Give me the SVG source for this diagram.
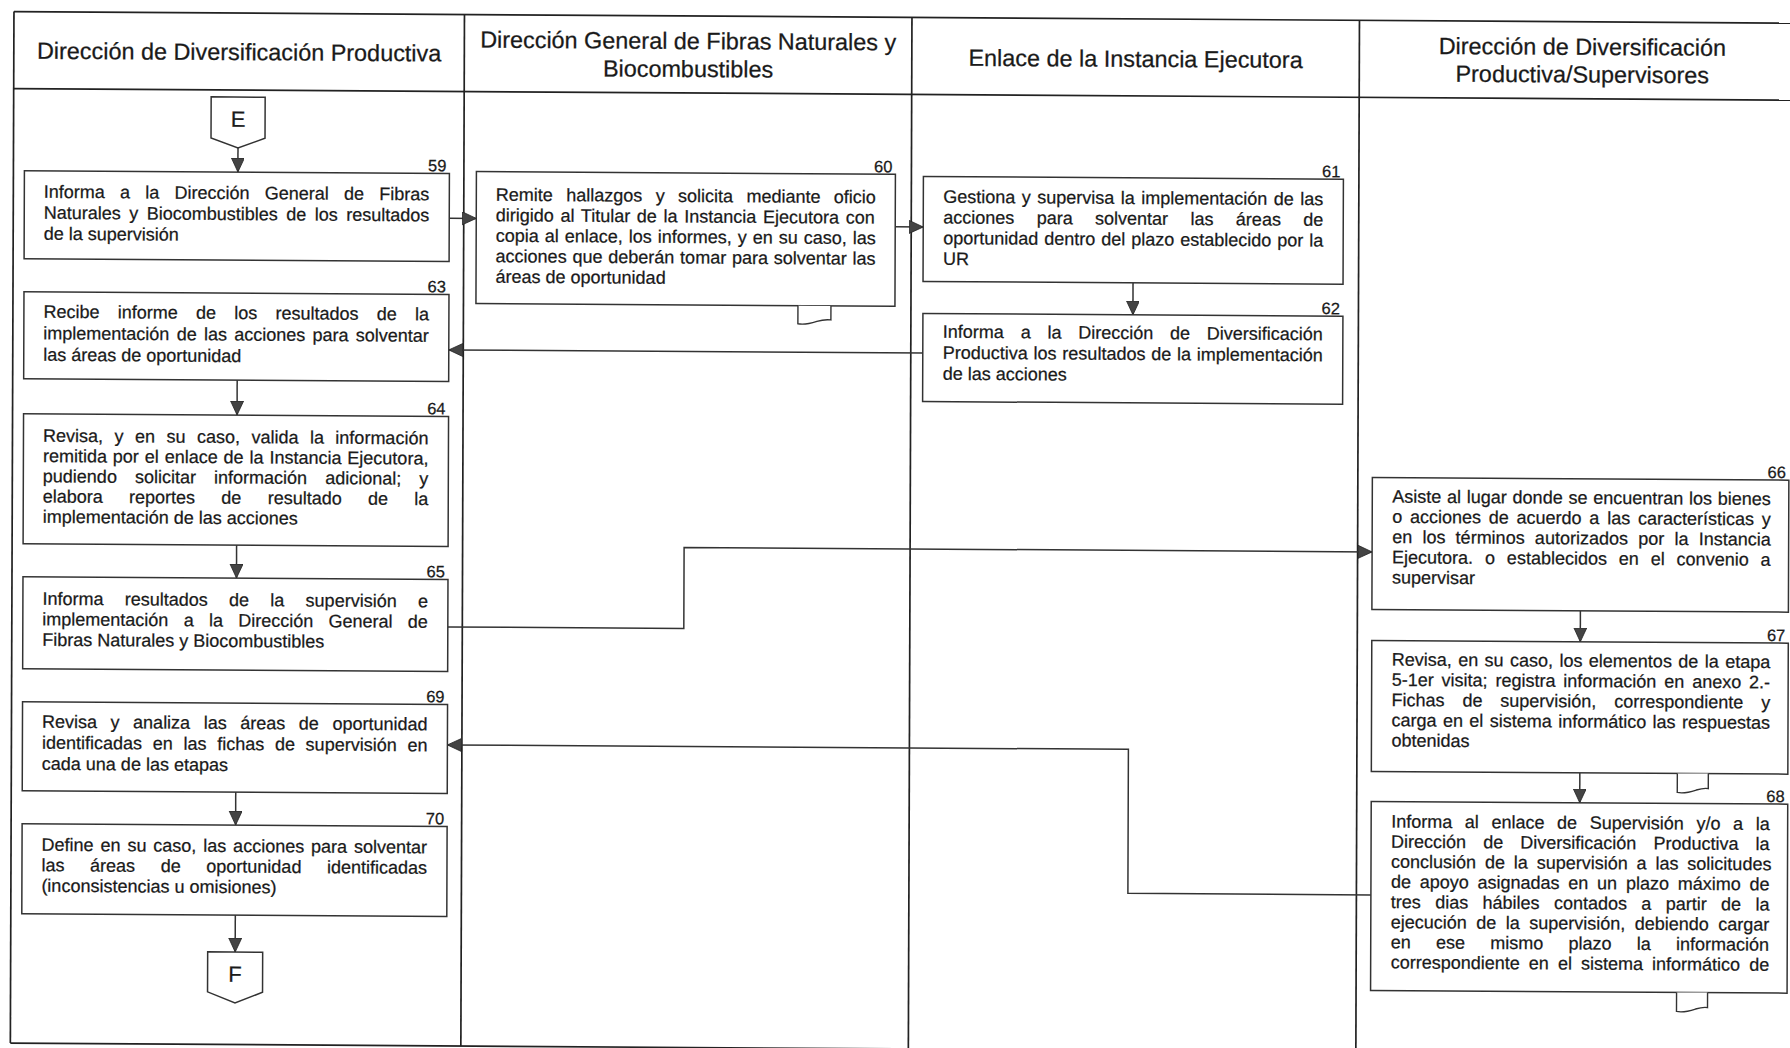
<svg xmlns="http://www.w3.org/2000/svg" width="1790" height="1048" viewBox="0 0 1790 1048">
<style>
.lane{stroke:#222;stroke-width:1.7;fill:none}
.box{fill:#fff;stroke:#333;stroke-width:1.5}
.doc{fill:#fff;stroke:#333;stroke-width:1.4}
.t{font-family:"Liberation Sans",Arial,sans-serif;font-size:18px;fill:#1a1a1a;stroke:#1a1a1a;stroke-width:0.25}
.h{font-size:23.4px;text-anchor:middle}
.num{font-size:16.5px;text-anchor:end}
.cn{font-size:22px;text-anchor:middle}
.c{stroke:#333;stroke-width:1.5;fill:none;marker-end:url(#ah)}
</style>
<defs>
<marker id="ah" markerUnits="userSpaceOnUse" markerWidth="15" markerHeight="14" refX="14" refY="6.5" orient="auto">
<path d="M0,0 L14,6.5 L0,13 Z" fill="#444" stroke="#222" stroke-width="0.8"/>
</marker>
</defs>
<rect x="0" y="0" width="1790" height="1048" fill="#fff"/>
<g transform="matrix(1,0.0065,-0.0035,1,0,0)">
<g id="lanes">
<line class="lane" x1="14" y1="11.5" x2="1815" y2="11.5" stroke-width="2"/>
<line class="lane" x1="14" y1="88.5" x2="1815" y2="88.5" stroke-width="2"/>
<line class="lane" x1="14" y1="1043" x2="1815" y2="1043" stroke-width="2"/>
<line class="lane" x1="14" y1="11.5" x2="14" y2="1043"/>
<line class="lane" x1="464.5" y1="11.5" x2="464.5" y2="1043"/>
<line class="lane" x1="912" y1="11.5" x2="912" y2="1043"/>
<line class="lane" x1="1359.5" y1="11.5" x2="1359.5" y2="1043"/>
<text class="t h" x="239.3" y="58.5">Dirección de Diversificación Productiva</text>
<text class="t h" x="688.3" y="44.5">Dirección General de Fibras Naturales y</text>
<text class="t h" x="688.3" y="72.5">Biocombustibles</text>
<text class="t h" x="1135.8" y="59.5">Enlace de la Instancia Ejecutora</text>
<text class="t h" x="1582.5" y="44.6">Dirección de Diversificación</text>
<text class="t h" x="1582.5" y="72.2">Productiva/Supervisores</text>
</g>
<g id="connectors">
<path class="c" d="M238.5,146.5 V170.5"/>
<path class="c" d="M450,215.3 H477"/>
<path class="c" d="M896,221 H924"/>
<path class="c" d="M1134,275.5 V307.5"/>
<path class="c" d="M924,347 H450"/>
<path class="c" d="M238.5,378.5 V413.5"/>
<path class="c" d="M238.5,543.5 V576.5"/>
<path class="c" d="M450,624 H686 V543 H1374"/>
<path class="c" d="M1582.5,600.5 V631.5"/>
<path class="c" d="M1582.5,762.5 V792.5"/>
<path class="c" d="M1374,886 H1131 V742 H450"/>
<path class="c" d="M238.5,790.5 V823.5"/>
<path class="c" d="M238.5,913.5 V950.5"/>
</g>
<g id="nE">
<path class="box" d="M211.5,95.5 H265.5 V136.5 L238.5,146.5 L211.5,136.5 Z"/>
<text class="t cn" x="238.5" y="125.2">E</text>
</g>
<g id="n59">
<rect class="box" x="25" y="170.5" width="425" height="88"/>
<text class="t num" x="447" y="168.5">59</text>
<text class="t" x="44.5" y="197.5" word-spacing="10.23">Informa a la Dirección General de Fibras</text>
<text class="t" x="44.5" y="218.5" word-spacing="3.48">Naturales y Biocombustibles de los resultados</text>
<text class="t" x="44.5" y="239.5">de la supervisión</text>
</g>
<g id="n60">
<rect class="box" x="477" y="168.5" width="419" height="132"/>
<path class="doc" d="M799,300.5 V318.5 C806,320 812,318 818,316 C823,314.5 828,314 832,314.5 V300.5"/>
<text class="t num" x="893" y="166.5">60</text>
<text class="t" x="496.5" y="197.5" word-spacing="8.38">Remite hallazgos y solicita mediante oficio</text>
<text class="t" x="496.5" y="218" word-spacing="1.69">dirigido al Titular de la Instancia Ejecutora con</text>
<text class="t" x="496.5" y="238.5" word-spacing="0.98">copia al enlace, los informes, y en su caso, las</text>
<text class="t" x="496.5" y="259" word-spacing="0.8">acciones que deberán tomar para solventar las</text>
<text class="t" x="496.5" y="279.5">áreas de oportunidad</text>
</g>
<g id="n61">
<rect class="box" x="924" y="170.5" width="420" height="105"/>
<text class="t num" x="1341" y="168.5">61</text>
<text class="t" x="944" y="196.6" word-spacing="1.48">Gestiona y supervisa la implementación de las</text>
<text class="t" x="944" y="217.3" word-spacing="17.38">acciones para solventar las áreas de</text>
<text class="t" x="944" y="238" word-spacing="0.97">oportunidad dentro del plazo establecido por la</text>
<text class="t" x="944" y="258.7">UR</text>
</g>
<g id="n62">
<rect class="box" x="924" y="307.5" width="420" height="88"/>
<text class="t num" x="1341" y="305.5">62</text>
<text class="t" x="944" y="331.6" word-spacing="11.78">Informa a la Dirección de Diversificación</text>
<text class="t" x="944" y="352.6" word-spacing="0.78">Productiva los resultados de la implementación</text>
<text class="t" x="944" y="373.6">de las acciones</text>
</g>
<g id="n63">
<rect class="box" x="25" y="291.5" width="425" height="87"/>
<text class="t num" x="447" y="289.5">63</text>
<text class="t" x="44.5" y="317.5" word-spacing="13.23">Recibe informe de los resultados de la</text>
<text class="t" x="44.5" y="339" word-spacing="2.27">implementación de las acciones para solventar</text>
<text class="t" x="44.5" y="360.5">las áreas de oportunidad</text>
</g>
<g id="n64">
<rect class="box" x="25" y="413.5" width="425" height="130"/>
<text class="t num" x="447" y="411.5">64</text>
<text class="t" x="44.5" y="441.5" word-spacing="6.47">Revisa, y en su caso, valida la información</text>
<text class="t" x="44.5" y="461.75" word-spacing="0.9">remitida por el enlace de la Instancia Ejecutora,</text>
<text class="t" x="44.5" y="482" word-spacing="13.08">pudiendo solicitar información adicional; y</text>
<text class="t" x="44.5" y="502.25" word-spacing="21.27">elabora reportes de resultado de la</text>
<text class="t" x="44.5" y="522.5">implementación de las acciones</text>
</g>
<g id="n65">
<rect class="box" x="25" y="576.5" width="425" height="92"/>
<text class="t num" x="447" y="574.5">65</text>
<text class="t" x="44.5" y="604.5" word-spacing="16.28">Informa resultados de la supervisión e</text>
<text class="t" x="44.5" y="625" word-spacing="10.28">implementación a la Dirección General de</text>
<text class="t" x="44.5" y="645.5">Fibras Naturales y Biocombustibles</text>
</g>
<g id="n66">
<rect class="box" x="1374" y="468.5" width="416.5" height="132"/>
<text class="t num" x="1787.5" y="466.5">66</text>
<text class="t" x="1394" y="493.5" word-spacing="0.76">Asiste al lugar donde se encuentran los bienes</text>
<text class="t" x="1394" y="513.75" word-spacing="2.76">o acciones de acuerdo a las características y</text>
<text class="t" x="1394" y="534" word-spacing="5.23">en los términos autorizados por la Instancia</text>
<text class="t" x="1394" y="554.25" word-spacing="6.88">Ejecutora. o establecidos en el convenio a</text>
<text class="t" x="1394" y="574.5">supervisar</text>
</g>
<g id="n67">
<rect class="box" x="1374" y="631.5" width="416.5" height="131"/>
<path class="doc" d="M1680,762.5 V781.5 C1687,783 1693,781 1699,779 C1704,777.5 1708,777 1711,777.5 V762.5"/>
<text class="t num" x="1787.5" y="629.5">67</text>
<text class="t" x="1394" y="656.5" word-spacing="1.41">Revisa, en su caso, los elementos de la etapa</text>
<text class="t" x="1394" y="676.75" word-spacing="2.88">5-1er visita; registra información en anexo 2.-</text>
<text class="t" x="1394" y="697" word-spacing="12.85">Fichas de supervisión, correspondiente y</text>
<text class="t" x="1394" y="717.25" word-spacing="1.4">carga en el sistema informático las respuestas</text>
<text class="t" x="1394" y="737.5">obtenidas</text>
</g>
<g id="n68">
<rect class="box" x="1374" y="792.5" width="416.5" height="189"/>
<path class="doc" d="M1680,981.5 V1000.5 C1687,1002 1693,1000 1699,998 C1704,996.5 1708,996 1711,996.5 V981.5"/>
<text class="t num" x="1787.5" y="790.5">68</text>
<text class="t" x="1394" y="818.5" word-spacing="7.62">Informa al enlace de Supervisión y/o a la</text>
<text class="t" x="1394" y="838.6" word-spacing="12.1">Dirección de Diversificación Productiva la</text>
<text class="t" x="1394" y="858.7" word-spacing="3.87">conclusión de la supervisión a las solicitudes</text>
<text class="t" x="1394" y="878.8" word-spacing="3.76">de apoyo asignadas en un plazo máximo de</text>
<text class="t" x="1394" y="899" word-spacing="9.34">tres dias hábiles contados a partir de la</text>
<text class="t" x="1394" y="919.1" word-spacing="4.46">ejecución de la supervisión, debiendo cargar</text>
<text class="t" x="1394" y="939.2" word-spacing="20.26">en ese mismo plazo la información</text>
<text class="t" x="1394" y="959.3" word-spacing="4.08">correspondiente en el sistema informático de</text>
</g>
<g id="n69">
<rect class="box" x="25" y="701.5" width="425" height="89"/>
<text class="t num" x="447" y="699.5">69</text>
<text class="t" x="44.5" y="727.5" word-spacing="8.56">Revisa y analiza las áreas de oportunidad</text>
<text class="t" x="44.5" y="748.5" word-spacing="5.72">identificadas en las fichas de supervisión en</text>
<text class="t" x="44.5" y="769.5">cada una de las etapas</text>
</g>
<g id="n70">
<rect class="box" x="25" y="823.5" width="425" height="90"/>
<text class="t num" x="447" y="821.5">70</text>
<text class="t" x="44.5" y="850.5" word-spacing="1.9">Define en su caso, las acciones para solventar</text>
<text class="t" x="44.5" y="871" word-spacing="20.6">las áreas de oportunidad identificadas</text>
<text class="t" x="44.5" y="891.5">(inconsistencias u omisiones)</text>
</g>
<g id="nF">
<path class="box" d="M211,950.5 H266 V990.5 L238.5,1001.5 L211,990.5 Z"/>
<text class="t cn" x="238.5" y="980.2">F</text>
</g>
</g>
</svg>
